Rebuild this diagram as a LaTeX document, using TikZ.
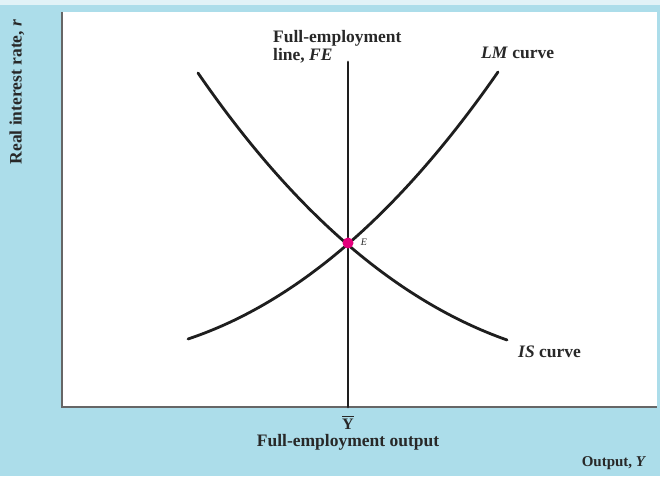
\documentclass[tikz,border=0pt]{standalone}
\usepackage{fontspec}
\setmainfont{Liberation Serif}
\definecolor{bgblue}{RGB}{172,221,234}
\definecolor{palestrip}{RGB}{225,242,247}
\definecolor{curvegray}{RGB}{30,30,30}
\definecolor{dotpink}{RGB}{228,0,124}
\definecolor{txt}{RGB}{40,40,40}
\tikzset{
  curveline/.style={line width=2.8pt, draw=curvegray, line cap=round},
  lbl/.style={inner sep=0pt, text=txt, font=\bfseries\fontsize{17.5}{18}\selectfont},
  axlbl/.style={inner sep=0pt, text=txt, font=\bfseries\fontsize{15}{18}\selectfont},
}
\begin{document}
\begin{tikzpicture}[x=1pt,y=1pt]
\useasboundingbox (0,0) rectangle (660,476);
\fill[bgblue] (0,0) rectangle (660,476);
\fill[palestrip] (0,471) rectangle (660,476);
\fill[white] (62,69) rectangle (657,464);
\draw[gray!80!black, line width=1.5pt] (62,464) -- (62,69) -- (657,69);
% named points
\coordinate (fetop) at (348,414);
\coordinate (febot) at (348,69);
\coordinate (isstart) at (198,403);
\coordinate (isend) at (507,136);
\coordinate (lmstart) at (188,137);
\coordinate (lmend) at (498,404);
\coordinate (Epos) at (348,233);
% curves
\draw[curveline] (fetop) -- (febot);
\draw[curveline] (isstart) .. controls (293.7,264) and (396.7,175) .. (isend);
\draw[curveline] (lmstart) .. controls (297.5,173.5) and (400.7,264) .. (lmend);
\fill[dotpink] (Epos) circle[radius=5.5pt];
\node[inner sep=0pt, text=txt, font=\itshape\fontsize{10}{10}\selectfont] (Elbl) at (364,234) {E};
% labels
\node[lbl, anchor=north west, align=left] (felbl) at (273,446) {Full-employment\\line, \textit{FE}};
\node[lbl, anchor=base west] (lmlbl) at (481,417) {\textit{LM} curve};
\node[lbl, anchor=base west] (islbl) at (518,118) {\textit{IS} curve};
\node[inner sep=0pt, text=txt, font=\bfseries\fontsize{16}{16}\selectfont] (ybar) at (348,53)
  {\vbox{\hrule height 1.1pt\kern1.8pt\hbox{Y}}};
\node[lbl] (yfull) at (348,34) {Full-employment output};
\node[axlbl] (xlbl) at (614,13) {Output, \textit{Y}};
\node[lbl, rotate=90] (ylbl) at (17,384) {Real interest rate, \textit{r}};
\end{tikzpicture}
\end{document}
